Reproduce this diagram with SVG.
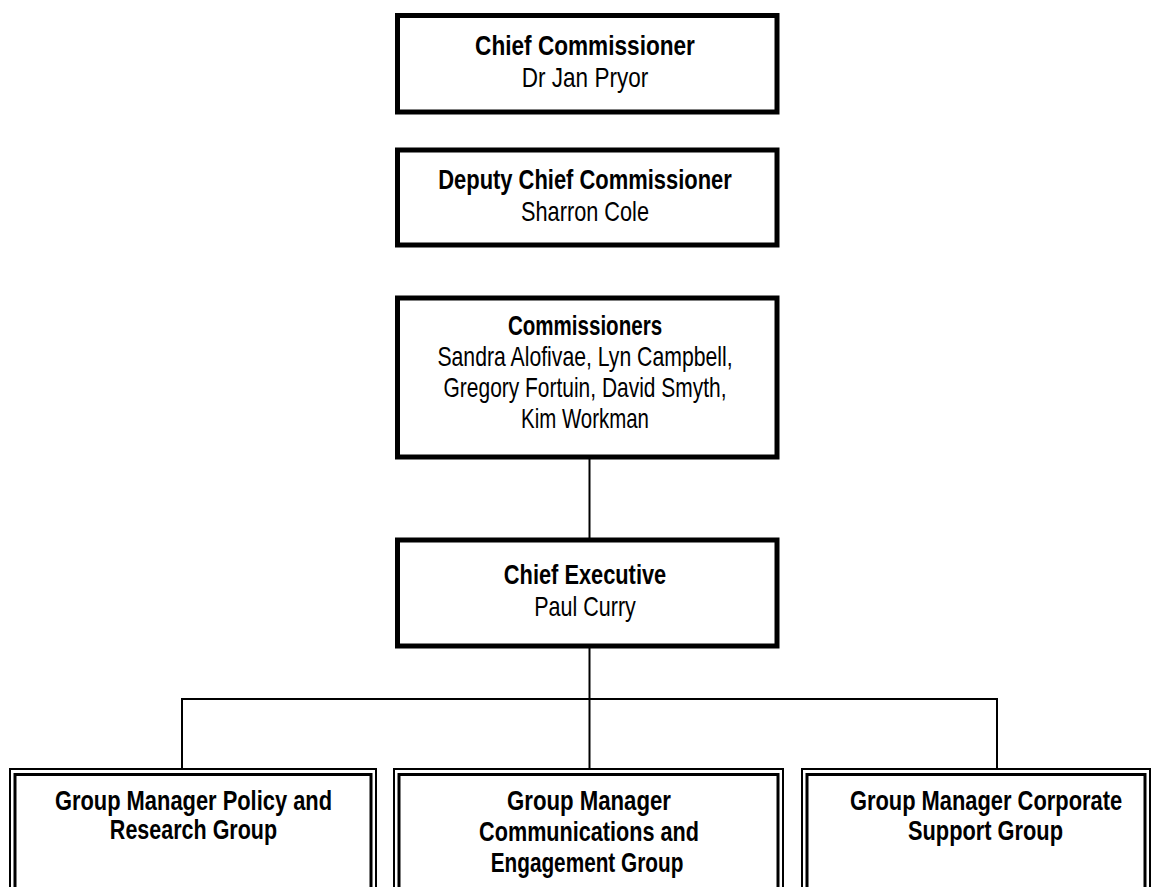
<svg xmlns="http://www.w3.org/2000/svg" width="1156" height="887" viewBox="0 0 1156 887">
<style>
.box{fill:#fff;stroke:#000;stroke-width:5}
.go{fill:#fff;stroke:#000;stroke-width:2}
.gi{fill:none;stroke:#000;stroke-width:3}
.ln{fill:none;stroke:#000;stroke-width:2}
text{font-family:"Liberation Sans",Arial,sans-serif;font-size:27px;text-anchor:middle;fill:#000}
.b{font-weight:bold}
</style>
<rect width="1156" height="887" fill="#fff"/>
<g id="connectors">
<line class="ln" x1="589.5" y1="457" x2="589.5" y2="540"/>
<line class="ln" x1="589.5" y1="646" x2="589.5" y2="769"/>
<polyline class="ln" points="182,769 182,699 997,699 997,769"/>
</g>
<g id="chief-commissioner">
<rect class="box" x="397.5" y="15.5" width="379.5" height="96.5"/>
<text transform="translate(585 55) scale(0.82 1)" class="b" textLength="268" lengthAdjust="spacingAndGlyphs">Chief Commissioner</text>
<text transform="translate(585 87) scale(0.82 1)" textLength="154" lengthAdjust="spacingAndGlyphs">Dr Jan Pryor</text>
</g>
<g id="deputy-chief-commissioner">
<rect class="box" x="397.5" y="150" width="379.5" height="95"/>
<text transform="translate(585 189) scale(0.82 1)" class="b" textLength="358" lengthAdjust="spacingAndGlyphs">Deputy Chief Commissioner</text>
<text transform="translate(585 221) scale(0.82 1)" textLength="156" lengthAdjust="spacingAndGlyphs">Sharron Cole</text>
</g>
<g id="commissioners">
<rect class="box" x="397.5" y="298" width="379.5" height="159"/>
<text transform="translate(585 335) scale(0.82 1)" class="b" textLength="188" lengthAdjust="spacingAndGlyphs">Commissioners</text>
<text transform="translate(585 366) scale(0.82 1)" textLength="360" lengthAdjust="spacingAndGlyphs">Sandra Alofivae, Lyn Campbell,</text>
<text transform="translate(585 397) scale(0.82 1)" textLength="345" lengthAdjust="spacingAndGlyphs">Gregory Fortuin, David Smyth,</text>
<text transform="translate(585 428) scale(0.82 1)" textLength="156" lengthAdjust="spacingAndGlyphs">Kim Workman</text>
</g>
<g id="chief-executive">
<rect class="box" x="397.5" y="540" width="379.5" height="106"/>
<text transform="translate(585 584) scale(0.82 1)" class="b" textLength="198" lengthAdjust="spacingAndGlyphs">Chief Executive</text>
<text transform="translate(585 616) scale(0.82 1)" textLength="124" lengthAdjust="spacingAndGlyphs">Paul Curry</text>
</g>
<g id="gm-policy">
<rect class="go" x="10" y="769" width="366" height="140"/>
<rect class="gi" x="15" y="774.5" width="356" height="130"/>
<text transform="translate(193.5 810) scale(0.82 1)" class="b" textLength="338" lengthAdjust="spacingAndGlyphs">Group Manager Policy and</text>
<text transform="translate(193.5 839) scale(0.82 1)" class="b" textLength="204" lengthAdjust="spacingAndGlyphs">Research Group</text>
</g>
<g id="gm-communications">
<rect class="go" x="394" y="769" width="389" height="140"/>
<rect class="gi" x="399" y="774.5" width="379" height="130"/>
<text transform="translate(589 810) scale(0.82 1)" class="b" textLength="200" lengthAdjust="spacingAndGlyphs">Group Manager</text>
<text transform="translate(589 841) scale(0.82 1)" class="b" textLength="268" lengthAdjust="spacingAndGlyphs">Communications and</text>
<text transform="translate(587 872) scale(0.82 1)" class="b" textLength="235" lengthAdjust="spacingAndGlyphs">Engagement Group</text>
</g>
<g id="gm-corporate">
<rect class="go" x="802" y="769" width="348" height="140"/>
<rect class="gi" x="807" y="774.5" width="338" height="130"/>
<text transform="translate(986 810) scale(0.82 1)" class="b" textLength="332" lengthAdjust="spacingAndGlyphs">Group Manager Corporate</text>
<text transform="translate(985.5 840) scale(0.82 1)" class="b" textLength="189" lengthAdjust="spacingAndGlyphs">Support Group</text>
</g>
</svg>
